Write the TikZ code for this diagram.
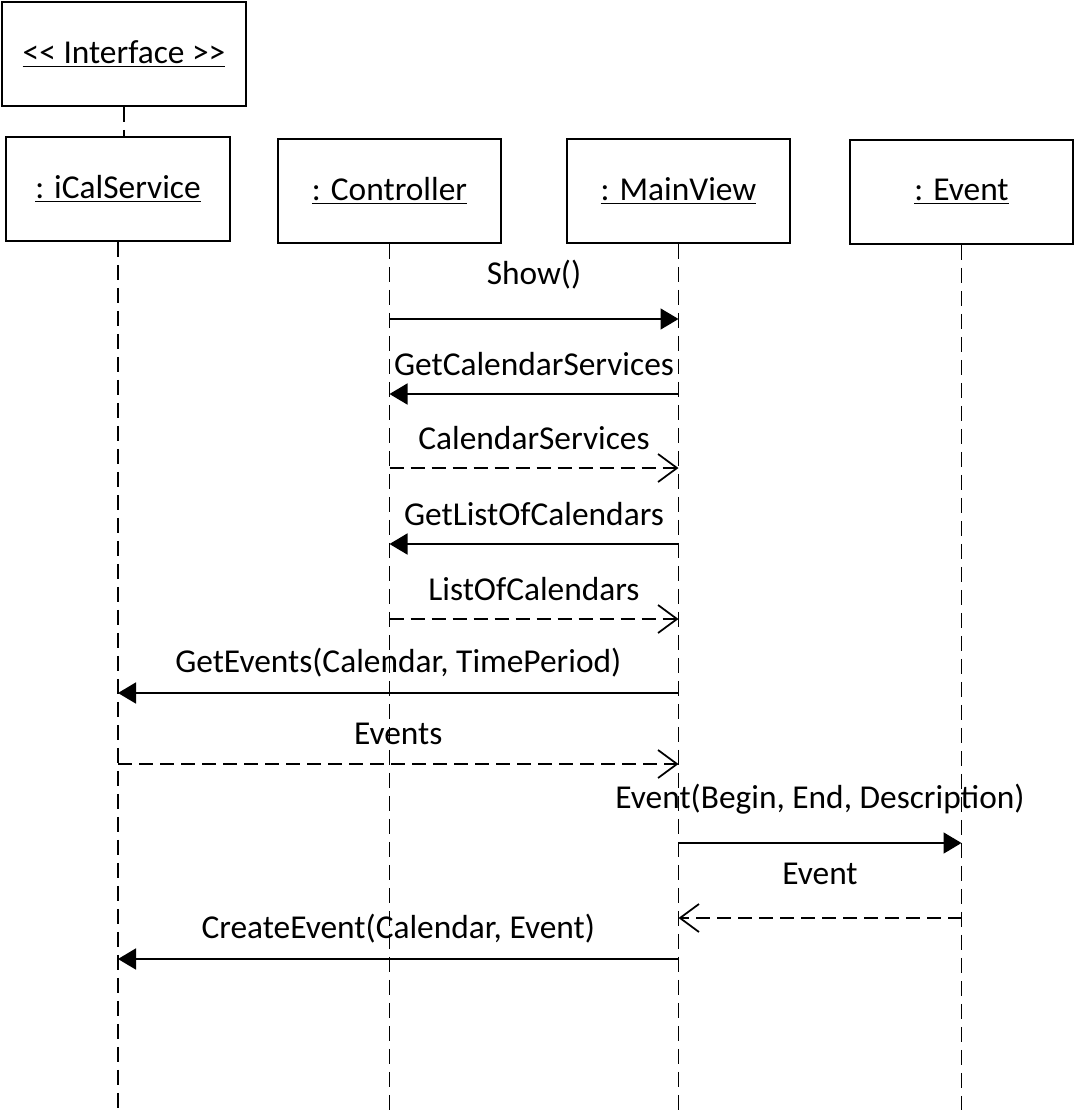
\documentclass[tikz,border=0pt]{standalone}
\usepackage{fontspec}
\setmainfont{Carlito}
\usetikzlibrary{positioning, arrows.meta}

\tikzset{
  obj/.style={draw, line width=1.1pt, minimum width=4.48cm, minimum height=2.08cm,
    inner sep=0pt, font=\fontsize{19}{22}\selectfont},
  life/.style={line width=1pt, dash pattern=on 0.3cm off 0.16cm},
  call/.style={-{Triangle[length=0.36cm, width=0.42cm]}, line width=1pt},
  reply/.style={-{Straight Barb[length=0.38cm, width=0.56cm, line width=1pt]},
    line width=1pt, dash pattern=on 0.28cm off 0.14cm},
  msg/.style={font=\fontsize{19}{22}\selectfont, yshift=0.6cm},
  msghi/.style={msg, yshift=0.28cm}
}

\begin{document}
\begin{tikzpicture}
  \useasboundingbox (0,0) rectangle (21.52,-22.28);

  % objects
  \node[obj, minimum width=4.88cm] (iface) at (2.48,-1.08) {\underline{<{}< Interface >{}>}};
  \node[obj] (ical) at (2.36,-3.78)  {\underline{: iCalService}};
  \node[obj, minimum width=4.46cm] (ctl)  at (7.79,-3.82)  {\underline{: Controller}};
  \node[obj, minimum width=4.46cm] (view) at (13.57,-3.82) {\underline{: MainView}};
  \node[obj, minimum width=4.46cm] (evt)  at (19.23,-3.84) {\underline{: Event}};

  % lifelines
  \coordinate (bot) at (0,-22.2);
  \draw[life] (iface.south) -- (iface.south |- ical.north);
  \foreach \o in {ical, ctl, view, evt}
    \draw[life] (\o.south) -- (\o.south |- bot);

  % message heights
  \coordinate (m1) at (0,-6.38);
  \coordinate (m2) at (0,-7.88);
  \coordinate (m3) at (0,-9.36);
  \coordinate (m4) at (0,-10.88);
  \coordinate (m5) at (0,-12.38);
  \coordinate (m6) at (0,-13.86);
  \coordinate (m7) at (0,-15.28);
  \coordinate (m8) at (0,-16.86);
  \coordinate (m9) at (0,-18.36);
  \coordinate (m10) at (0,-19.18);

  % messages
  \draw[call]  (ctl |- m1)  -- (view |- m1) node[msghi, midway] {Show()};
  \draw[call]  (view |- m2) -- (ctl |- m2)  node[msg, midway] {GetCalendarServices};
  \draw[reply] (ctl |- m3)  -- (view |- m3) node[msg, midway] {CalendarServices};
  \draw[call]  (view |- m4) -- (ctl |- m4)  node[msg, midway] {GetListOfCalendars};
  \draw[reply] (ctl |- m5)  -- (view |- m5) node[msg, midway] {ListOfCalendars};
  \draw[call]  (view |- m6) -- (ical |- m6) node[msg, midway] {GetEvents(Calendar, TimePeriod)};
  \draw[reply] (ical |- m7) -- (view |- m7) node[msg, midway] {Events};
  \draw[call]  (view |- m8) -- (evt |- m8)  node[msghi, midway] {Event(Begin, End, Description)};
  \draw[reply] (evt |- m9)  -- (view |- m9) node[msghi, midway] {Event};
  \draw[call]  (view |- m10) -- (ical |- m10) node[msg, midway] {CreateEvent(Calendar, Event)};
\end{tikzpicture}
\end{document}
